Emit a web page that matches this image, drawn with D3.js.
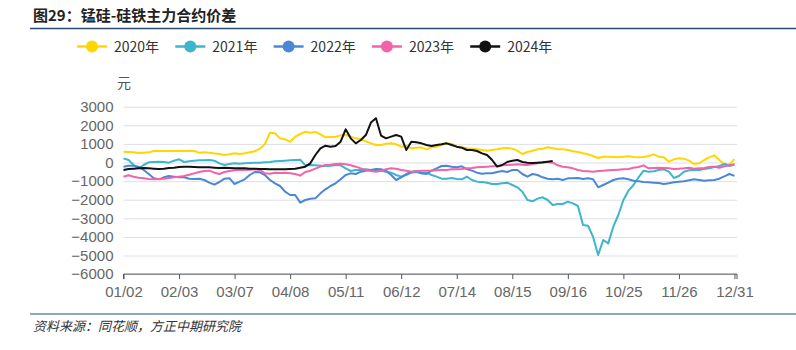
<!DOCTYPE html>
<html><head><meta charset="utf-8">
<script src="https://cdn.jsdelivr.net/npm/d3@7/dist/d3.min.js"></script>
<style>
html,body{margin:0;padding:0;background:#fff;}
svg{display:block;}
text{font-family:"Noto Sans CJK SC","Noto Sans",sans-serif;}
</style></head>
<body>
<svg id="chart" width="796" height="350"></svg>
<script>
const title = "图29：锰硅-硅铁主力合约价差";
const source = "资料来源：同花顺，方正中期研究院";
const unit = "元";
const seriesNames = ["2020年","2021年","2022年","2023年","2024年"];
const seriesColors = ["#FFD700","#3DB5CB","#4A88D6","#F263AA","#111111"];
const xTickLabels = ["01/02","02/03","03/07","04/08","05/11","06/12","07/14","08/15","09/16","10/25","11/26","12/31"];
const xTickIndex = [0,22,44,66,88,110,132,154,176,198,220,242];
const yTicks = [3000,2000,1000,0,-1000,-2000,-3000,-4000,-5000,-6000];
const dayCount = 243;   // trading-day axis length
const step = 2;         // values sampled every 2 trading days

const s2020 = [580,565,545,510,530,545,620,620,620,620,620,620,620,635,620,530,545,530,490,455,405,
439,493,457,493,547,600,740,980,1600,1568,1299,1245,1120,1389,1532,1658,1604,1640,1514,1353,
1371,1389,1460,1478,1389,1299,1245,1138,1030,941,941,1012,1030,977,851,887,762,797,815,708,
815,851,941,1030,995,851,815,762,744,708,672,636,672,708,762,780,744,636,457,565,
636,708,744,815,762,708,708,672,600,565,493,439,349,242,314,314,296,278,314,332,
296,278,296,349,439,314,278,45,170,224,206,99,-81,-45,134,278,385,134,-99,-100,180];
const s2021 = [224,134,-134,-314,-134,9,27,45,27,-9,99,170,27,63,99,116,116,134,99,-45,-134,
-81,-45,-63,-45,-27,-9,-9,9,27,63,81,99,116,134,152,-153,-134,-153,-170,-188,
-170,-134,-152,-314,-457,-403,-403,-367,-403,-403,-439,-493,-547,-672,-762,-672,-547,-511,-582,-547,
-672,-762,-869,-869,-833,-887,-905,-762,-941,-1030,-1048,-1084,-1156,-1156,-1120,-1084,-1209,-1335,-1568,-2016,
-2087,-1944,-1872,-2016,-2285,-2231,-2231,-2106,-2195,-2339,-3360,-3400,-4000,-4973,-4166,-4346,-3450,-2822,-2016,-1514,
-1210,-797,-439,-493,-475,-403,-367,-493,-833,-726,-493,-421,-403,-403,-350,-314,-242,-188,-81,-188,-116];
const s2022 = [-224,-170,-170,-224,-403,-618,-851,-905,-797,-726,-762,-797,-797,-869,-887,-869,-941,-1084,-1192,-1048,-869,
-851,-1156,-1030,-905,-672,-511,-529,-672,-941,-1120,-1263,-1568,-1747,-1747,-2159,-2016,-1945,-1927,-1658,-1443,
-1263,-1120,-905,-672,-582,-618,-493,-439,-403,-350,-367,-439,-672,-941,-797,-618,-511,-457,-582,-618,
-439,-314,-188,-170,-224,-260,-206,-350,-439,-547,-600,-582,-582,-511,-457,-511,-403,-403,-618,-762,
-618,-672,-797,-869,-905,-869,-941,-851,-851,-833,-887,-851,-905,-1335,-1209,-1084,-941,-869,-851,-905,
-977,-1012,-1048,-1066,-1084,-1102,-1156,-1120,-1066,-1030,-1012,-959,-905,-941,-977,-959,-941,-869,-744,-618,-720];
const s2023 = [-762,-690,-762,-815,-851,-887,-905,-887,-869,-833,-797,-762,-726,-654,-583,-511,-457,-439,-547,-618,-511,
-457,-421,-403,-403,-385,-367,-403,-582,-600,-547,-565,-547,-582,-618,-708,-511,-439,-332,-224,-134,
-116,-81,-63,-99,-152,-224,-314,-403,-457,-493,-439,-367,-314,-332,-403,-439,-493,-475,-439,-439,
-439,-421,-403,-403,-367,-367,-350,-314,-296,-260,-242,-224,-206,-188,-152,-134,-116,-99,-116,-134,
-81,-45,-9,27,-9,-152,-224,-260,-314,-403,-457,-475,-493,-457,-439,-421,-403,-385,-367,-350,
-278,-242,-152,-314,-296,-278,-296,-314,-350,-332,-314,-278,-332,-314,-296,-242,-224,-278,-206,-152,-99];
const s2024 = [-403,-350,-332,-314,-296,-314,-332,-350,-332,-296,-278,-242,-224,-224,-242,-260,-260,-260,-278,-296,-278,
-296,-314,-314,-314,-332,-332,-350,-350,-367,-367,-367,-367,-350,-332,-278,-224,-45,403,762,905,
851,887,1120,1783,1299,1030,1209,1478,2150,2380,1450,1299,1389,1478,1389,672,1120,1084,1030,941,
887,941,977,1030,941,851,797,672,672,618,493,403,134,-224,-134,27,99,134,27,-9,
-27,-9,9,45,81];
const allSeries = [s2020,s2021,s2022,s2023,s2024];

const svg = d3.select("#chart");
const plot = {left:123.5, right:737, top:106.7, bottom:274.1};
const x = d3.scaleLinear().domain([0,dayCount]).range([plot.left, plot.right]);
const y = d3.scaleLinear().domain([-6000,3000]).range([plot.bottom, plot.top]);

// title
svg.append("text").attr("x",33).attr("y",21).attr("font-size",15).attr("font-weight","bold")
  .attr("fill","#222").text(title);
svg.append("line").attr("x1",30).attr("x2",796).attr("y1",28.5).attr("y2",28.5)
  .attr("stroke","#2B4C6F").attr("stroke-width",1.5);

// legend
const lg = svg.append("g");
seriesNames.forEach((n,i)=>{
  const g = lg.append("g").attr("transform",`translate(${77+i*98.3},46.5)`);
  g.append("line").attr("x1",0).attr("x2",30).attr("stroke",seriesColors[i]).attr("stroke-width",2.5);
  g.append("circle").attr("cx",15).attr("r",6).attr("fill",seriesColors[i]);
  g.append("text").attr("x",37).attr("dy","0.36em").attr("font-size",14).attr("fill","#333").text(n);
});

// unit
svg.append("text").attr("x",117).attr("y",88).attr("font-size",14).attr("fill","#555").text(unit);

// y grid + labels
const fmt = v => v<0 ? "\u2212"+Math.abs(v) : String(v);
const yAxis = svg.append("g").attr("transform",`translate(${plot.left},0)`)
  .call(d3.axisLeft(y).tickValues(yTicks).tickFormat(fmt).tickSize(-(plot.right-plot.left)).tickPadding(10));
yAxis.select(".domain").remove();
yAxis.selectAll(".tick line").attr("stroke","#DCDFEA").attr("stroke-width",1);
yAxis.selectAll(".tick text").attr("font-size",15).attr("fill","#666")
  .style("font-family","'Liberation Sans','Noto Sans',sans-serif");

// x axis
const xAxis = svg.append("g").attr("transform",`translate(0,${plot.bottom})`)
  .call(d3.axisBottom(x).tickValues(xTickIndex).tickFormat((d,i)=>xTickLabels[i]).tickSize(5).tickPadding(7));
xAxis.select(".domain").attr("stroke","#555").attr("d",`M${plot.left},5V0H${plot.right}V5`);
xAxis.selectAll(".tick line").attr("stroke","#555");
xAxis.selectAll(".tick text").attr("font-size",15).attr("fill","#666")
  .style("font-family","'Liberation Sans','Noto Sans',sans-serif");

// lines
const line = d3.line().x(d=>x(d[0])).y(d=>y(d[1]));
allSeries.forEach((s,i)=>{
  svg.append("path").datum(s.map((v,k)=>[k*step,v]))
    .attr("d",line).attr("fill","none").attr("stroke",seriesColors[i])
    .attr("stroke-width",2).attr("stroke-linejoin","round");
});

// footer
svg.append("line").attr("x1",30).attr("x2",796).attr("y1",314).attr("y2",314)
  .attr("stroke","#2B4C6F").attr("stroke-width",1.2);
svg.append("text").attr("x",33).attr("y",331).attr("font-size",13).attr("font-style","italic")
  .attr("fill","#333").text(source);
</script>
</body></html>
